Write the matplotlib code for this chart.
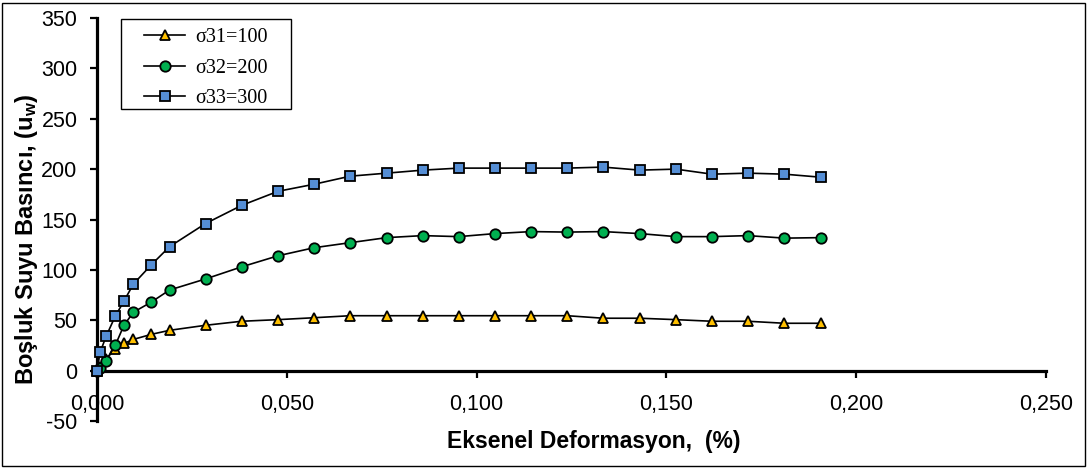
import matplotlib
matplotlib.use("Agg")
import matplotlib.pyplot as plt
from matplotlib.patches import Rectangle

# ---------------- data ----------------
strain = [0.0, 0.0008, 0.0024, 0.0048, 0.0071, 0.0096, 0.0143,
          0.0191, 0.0286, 0.0381, 0.0477, 0.0572, 0.0667, 0.0763, 0.0858,
          0.0953, 0.1048, 0.1144, 0.1239, 0.1334, 0.1430, 0.1525, 0.1620,
          0.1715, 0.1811, 0.1906]
u_100 = [0, 4, 12, 21, 27, 31, 36,
         40, 45, 49, 50.6, 52.5, 54.5, 54.5, 54.5, 54.5, 54.5, 54.5, 54.5,
         52, 52, 50.6, 49, 49, 47, 47]
u_200 = [0, 3, 10, 25, 45, 58, 68,
         80, 91, 103, 114, 122, 127, 132, 134, 133, 136, 138, 137.5,
         138, 136, 133, 133, 134, 131.5, 132]
u_300 = [0, 18, 34, 54, 69, 86, 105,
         123, 146, 164, 178, 185, 193, 196, 199, 201, 201, 201, 201,
         202, 199, 200, 195, 196, 195, 192]
series_labels = ["σ31=100", "σ32=200", "σ33=300"]
x_ticks = [0.0, 0.05, 0.10, 0.15, 0.20, 0.25]
x_tick_labels = ["0,000", "0,050", "0,100", "0,150", "0,200", "0,250"]
y_ticks = [-50, 0, 50, 100, 150, 200, 250, 300, 350]
y_tick_labels = ["-50", "0", "50", "100", "150", "200", "250", "300", "350"]
x_label = "Eksenel Deformasyon,  (%)"
y_label = r"Boşluk Suyu Basıncı, ($\mathbf{u_w}$)"

# ---------------- style ----------------
plt.rcParams["font.family"] = ["Liberation Sans", "DejaVu Sans"]
plt.rcParams["mathtext.fontset"] = "custom"
plt.rcParams["mathtext.bf"] = "Liberation Sans:bold"
plt.rcParams["mathtext.rm"] = "Liberation Sans"

W, H = 1087, 468
fig = plt.figure(figsize=(W / 100, H / 100), dpi=100)
L, R, T, B = 97, 1046, 18, 421
ax = fig.add_axes([L / W, 1 - B / H, (R - L) / W, (B - T) / H])

styles = [
    dict(marker="^", markerfacecolor="#FFC000", markersize=7.9),
    dict(marker="o", markerfacecolor="#00B050", markersize=7.5),
    dict(marker="s", markerfacecolor="#558ED5", markersize=7.7),
]
handles = []
for yv, lab, st in zip([u_100, u_200, u_300], series_labels, styles):
    h, = ax.plot(strain, yv, color="black", lw=1.2, markeredgecolor="black",
                 markeredgewidth=1.3, label=lab, zorder=3, clip_on=False, **st)
    handles.append(h)

ax.set_xlim(0, 0.25)
ax.set_ylim(-50, 350)
ax.set_xticks(x_ticks)
ax.set_xticklabels(x_tick_labels)
ax.set_yticks(y_ticks)
ax.set_yticklabels(y_tick_labels)

for s in ["top", "right"]:
    ax.spines[s].set_visible(False)
ax.spines["bottom"].set_position(("data", 0))
ax.spines["bottom"].set_linewidth(2.3)
ax.spines["left"].set_linewidth(2.3)
ax.tick_params(axis="both", direction="out", length=5, width=1.6,
               labelsize=15.5, color="black")
ax.tick_params(axis="x", pad=12.0)
ax.tick_params(axis="y", pad=9.0)
for t in ax.get_xticklabels():
    t.set_bbox(dict(facecolor="white", edgecolor="none", pad=1.0))

# legend frame + legend
ax.add_patch(Rectangle(((121 - L) / (R - L), (B - 109) / (B - T)),
                       170 / (R - L), 90 / (B - T), transform=ax.transAxes,
                       facecolor="white", edgecolor="black", lw=1.0,
                       zorder=4, clip_on=False))
fs_leg = 14.5
px = fs_leg * 100 / 72
leg = ax.legend(handles=handles, loc="upper left",
                bbox_to_anchor=((144 - L) / (R - L), (B - 28) / (B - T)),
                frameon=False, borderpad=0, borderaxespad=0,
                handlelength=41 / px, handletextpad=10 / px,
                labelspacing=(31.5 - px) / px,
                prop={"family": "Liberation Serif", "size": fs_leg})
leg.set_zorder(5)

# axis titles
fig.text(594 / W, 1 - 448 / H, x_label, ha="center", va="baseline",
         fontsize=16.5, fontweight="bold")
fig.text(33.3 / W, 1 - 239 / H, y_label, ha="center", va="baseline",
         rotation=90, rotation_mode="anchor", fontsize=17, fontweight="bold")

# outer chart border
fig.patches.append(Rectangle((2 / W, 2 / H), 1083 / W, 463 / H,
                             transform=fig.transFigure, fill=False,
                             edgecolor="black", lw=1.0))

fig.savefig("out.png", dpi=100)
